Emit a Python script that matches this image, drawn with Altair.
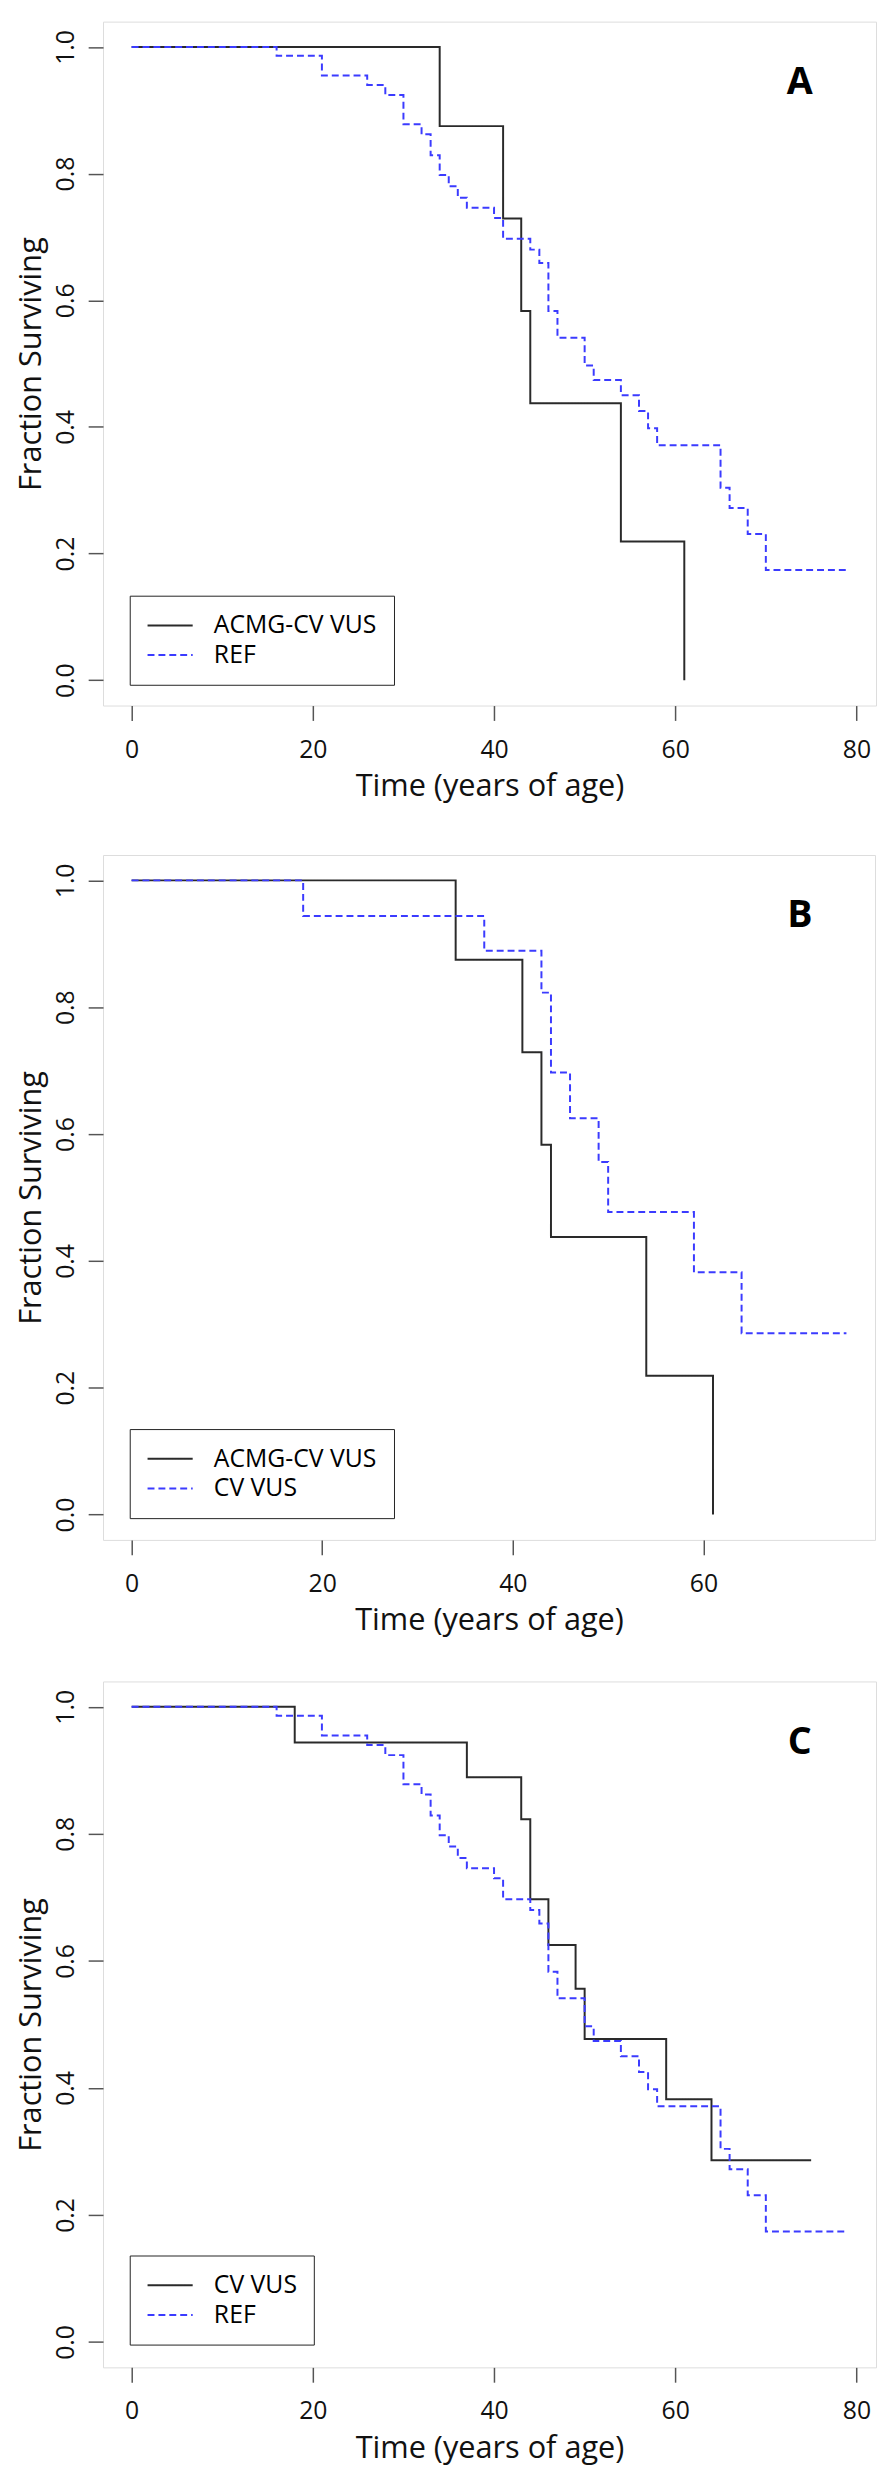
import altair as alt
import pandas as pd

# ---- data (Kaplan-Meier step curves) ----
acmg_t = [0, 34, 41, 43, 44, 54, 61]
acmg_s = [1.0, 0.875, 0.729, 0.583, 0.4375, 0.219, 0.0]

ref_t = [0, 16, 21, 26, 28, 30, 32, 33, 34, 35, 36, 37, 40, 41, 44, 45, 46, 47,
         50, 51, 54, 56, 57, 58, 65, 66, 68, 70, 79]
ref_s = [1.0, 0.986, 0.955, 0.940, 0.924, 0.878, 0.862, 0.829, 0.798, 0.780,
         0.762, 0.746, 0.730, 0.697, 0.680, 0.659, 0.583, 0.541, 0.497, 0.474,
         0.450, 0.425, 0.398, 0.371, 0.304, 0.272, 0.231, 0.174, 0.174]

cv_t = [0, 18, 37, 43, 44, 46, 49, 50, 59, 64, 75]
cv_s = [1.0, 0.944, 0.889, 0.823, 0.697, 0.625, 0.556, 0.477, 0.382, 0.286, 0.286]

panel_letters = ["A", "B", "C"]
x_ticks_long = [0, 20, 40, 60, 80]
x_ticks_short = [0, 20, 40, 60]
y_ticks = [0.0, 0.2, 0.4, 0.6, 0.8, 1.0]

FONT = "Open Sans"
BLACK = "#2a2a2a"
BLUE = "#3b3bff"


def frame(t, s, name):
    return pd.DataFrame({"t": t, "s": s, "series": name})


def panel(first, second, letter, xmax, xticks, width, height):
    (t1, s1, n1), (t2, s2, n2) = first, second
    d1 = frame(t1, s1, n1)
    d2 = frame(t2, s2, n2)
    pad = xmax * 0.04
    xscale = alt.Scale(domain=[-pad, xmax + pad], nice=False, zero=False)
    yscale = alt.Scale(domain=[-0.04, 1.04], nice=False, zero=False)
    legend = alt.Legend(
        title=None, orient="none", legendX=27, legendY=580,
        strokeColor="#222222", fillColor="white", padding=17,
        labelFont=FONT, labelFontSize=25, labelColor="black", labelLimit=400,
        symbolType="M-1,0H2.8", symbolSize=576, symbolStrokeWidth=2,
        labelOffset=42, rowPadding=4, cornerRadius=0,
    )
    color = alt.Color("series:N", scale=alt.Scale(domain=[n1, n2], range=[BLACK, BLUE]), legend=legend)
    dash = alt.StrokeDash("series:N", scale=alt.Scale(domain=[n1, n2], range=[[1, 0], [7, 4]]), legend=legend)
    xaxis = alt.Axis(values=xticks, title="Time (years of age)", domain=False, grid=False,
                     tickSize=15, tickColor="#555555", tickWidth=1.5,
                     labelFont=FONT, labelFontSize=25, labelColor="#111111", labelPadding=17,
                     titleFont=FONT, titleFontSize=31, titleFontWeight="normal",
                     titleColor="#111111", titlePadding=10, labelFlush=False)
    yaxis = alt.Axis(values=y_ticks, format=".1f", title="Fraction Surviving", domain=False,
                     grid=False, tickSize=15, tickColor="#555555", tickWidth=1.5,
                     labelFont=FONT, labelFontSize=25, labelColor="#111111", labelPadding=15,
                     labelAngle=-90, labelAlign="center", labelBaseline="alphabetic",
                     titleFont=FONT, titleFontSize=31, titleFontWeight="normal",
                     titleColor="#111111", titlePadding=6, labelFlush=False)

    def line(d):
        return alt.Chart(d).mark_line(interpolate="step-after", strokeWidth=2).encode(
            x=alt.X("t:Q", scale=xscale, axis=xaxis),
            y=alt.Y("s:Q", scale=yscale, axis=yaxis),
            color=color,
            strokeDash=dash,
        )

    label = alt.Chart(pd.DataFrame({"label": [letter]})).mark_text(
        font=FONT, fontSize=38, fontWeight="bold", color="black",
        align="center", baseline="middle").encode(
        x=alt.value(704), y=alt.value(62), text="label:N")

    return alt.layer(line(d1), line(d2), label).properties(width=width, height=height)


pA = panel((acmg_t, acmg_s, "ACMG-CV VUS"), (ref_t, ref_s, "REF"), panel_letters[0], 79, x_ticks_long, 781, 691)
pB = panel((acmg_t, acmg_s, "ACMG-CV VUS"), (cv_t, cv_s, "CV VUS"), panel_letters[1], 75, x_ticks_short, 780, 692)
pC = panel((cv_t, cv_s, "CV VUS"), (ref_t, ref_s, "REF"), panel_letters[2], 79, x_ticks_long, 781, 693)

top = alt.vconcat(pA, pB, spacing=52).resolve_scale(
    x="independent", color="independent", strokeDash="independent").resolve_legend(
    color="independent", strokeDash="independent")

chart = alt.vconcat(top, pC, spacing=44).resolve_scale(
    x="independent", color="independent", strokeDash="independent").resolve_legend(
    color="independent", strokeDash="independent").properties(
    padding={"left": 7, "top": 0, "right": 0, "bottom": 0}).configure_view(
    stroke="#444444", strokeWidth=1.5).configure(font=FONT)

chart.save("out.html", embed_options={"renderer": "svg", "actions": False})
